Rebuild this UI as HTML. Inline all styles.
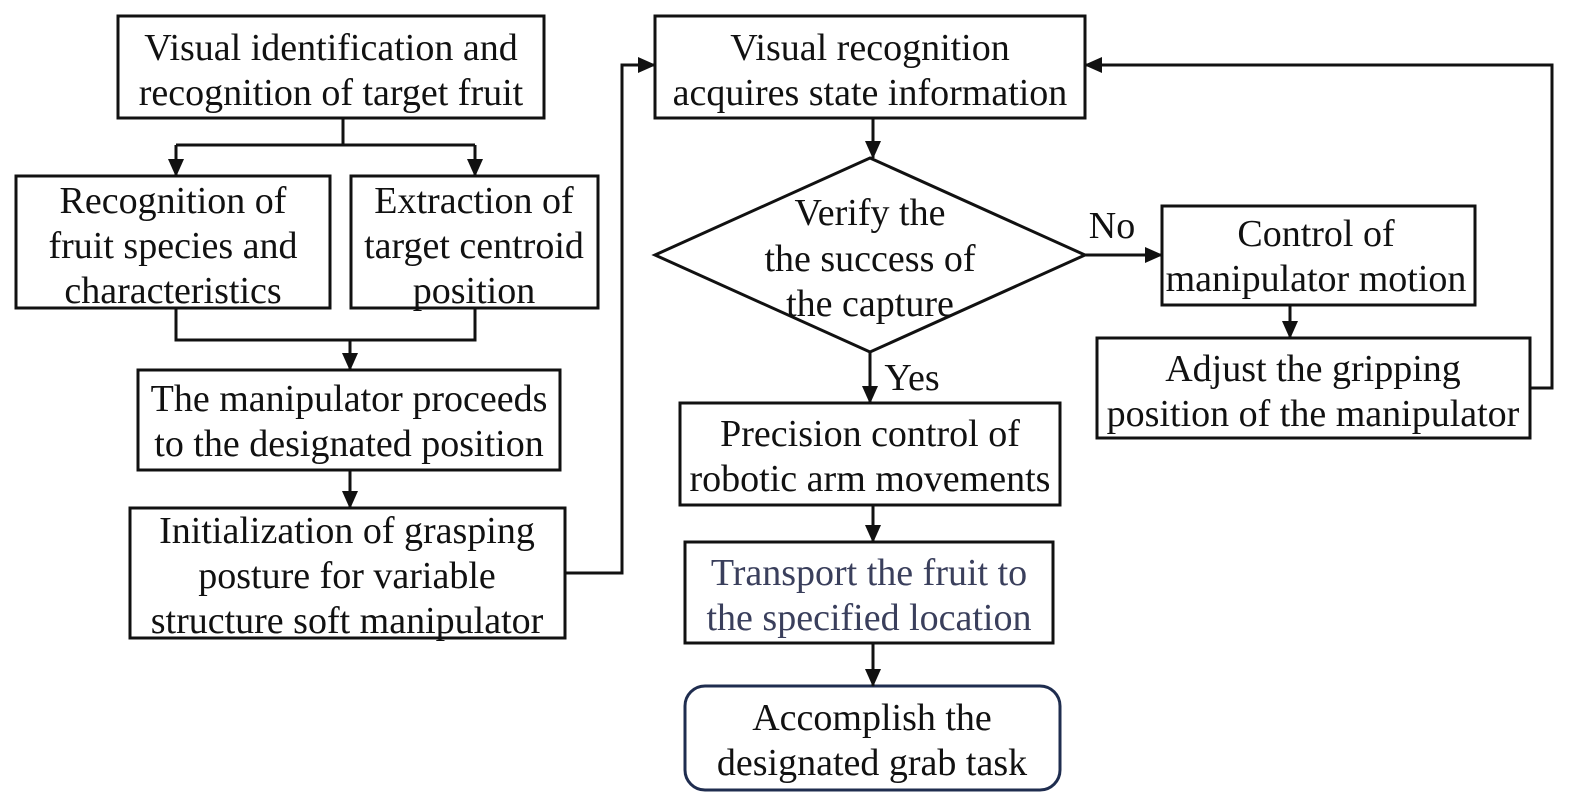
<!DOCTYPE html>
<html><head><meta charset="utf-8"><style>
html,body{margin:0;padding:0;background:#fff;}
svg{display:block}
text{font-family:"Liberation Serif",serif;font-size:38px;fill:#111;text-anchor:middle;}
</style></head><body>
<svg width="1582" height="811" viewBox="0 0 1582 811" xmlns="http://www.w3.org/2000/svg">
<defs>
<marker id="b" markerWidth="18" markerHeight="16" refX="17" refY="8" orient="auto" markerUnits="userSpaceOnUse" viewBox="0 0 18 16"><path d="M0,0 L18,8 L0,16 z" fill="#111"/></marker></defs>
<g fill="none" stroke="#111" stroke-width="3">
<rect x="118" y="16" width="426" height="102"/>
<rect x="16" y="176" width="314" height="132"/>
<rect x="351" y="176" width="247" height="132"/>
<rect x="138" y="370" width="422" height="100"/>
<rect x="130" y="508" width="435" height="130"/>
<rect x="655" y="16" width="430" height="102"/>
<polygon points="870,158 1085,255 870,352 655,255"/>
<rect x="1162" y="206" width="313" height="99"/>
<rect x="1097" y="338" width="433" height="100"/>
<rect x="680" y="403" width="380" height="102"/>
<rect x="685" y="542" width="368" height="101"/>
<rect x="685" y="686" width="375" height="104" rx="20" stroke="#1f2d4f"/>
<path d="M343,118 V145 M176,145 H475"/>
<path d="M176,145 V176" marker-end="url(#b)"/>
<path d="M475,145 V176" marker-end="url(#b)"/>
<path d="M176,308 V340 H475 V308 M350,340 V370" marker-end="url(#b)"/>
<path d="M350,470 V508" marker-end="url(#b)"/>
<path d="M565,573 H622 V65 H655" marker-end="url(#b)"/>
<path d="M873,118 V158" marker-end="url(#b)"/>
<path d="M1085,255 H1162" marker-end="url(#b)"/>
<path d="M1290,305 V338" marker-end="url(#b)"/>
<path d="M1530,388 H1552 V65 H1085" marker-end="url(#b)"/>
<path d="M870,352 V403" marker-end="url(#b)"/>
<path d="M873,505 V542" marker-end="url(#b)"/>
<path d="M873,643 V686" marker-end="url(#b)"/>
</g>
<text x="331" y="60">Visual identification and</text>
<text x="331" y="105">recognition of target fruit</text>
<text x="173" y="213">Recognition of</text>
<text x="173" y="258">fruit species and</text>
<text x="173" y="303">characteristics</text>
<text x="474" y="213">Extraction of</text>
<text x="474" y="258">target centroid</text>
<text x="474" y="303">position</text>
<text x="349" y="411">The manipulator proceeds</text>
<text x="349" y="456">to the designated position</text>
<text x="347" y="543">Initialization of grasping</text>
<text x="347" y="588">posture for variable</text>
<text x="347" y="633">structure soft manipulator</text>
<text x="870" y="60">Visual recognition</text>
<text x="870" y="105">acquires state information</text>
<text x="870" y="225">Verify the</text>
<text x="870" y="271">the success of</text>
<text x="870" y="316">the capture</text>
<text x="1112" y="238">No</text>
<text x="912" y="390">Yes</text>
<text x="1316" y="246">Control of</text>
<text x="1316" y="291">manipulator motion</text>
<text x="1313" y="381">Adjust the gripping</text>
<text x="1313" y="426">position of the manipulator</text>
<text x="870" y="446">Precision control of</text>
<text x="870" y="491">robotic arm movements</text>
<text x="869" y="585" style="fill:#3a3f5c">Transport the fruit to</text>
<text x="869" y="630" style="fill:#3a3f5c">the specified location</text>
<text x="872" y="730">Accomplish the</text>
<text x="872" y="775">designated grab task</text>
</svg>
</body></html>
